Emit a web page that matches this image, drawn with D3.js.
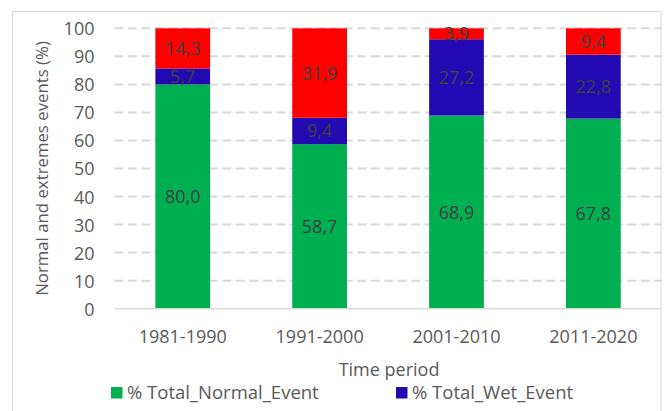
<!DOCTYPE html>
<html>
<head>
<meta charset="utf-8">
<script src="https://cdn.jsdelivr.net/npm/d3@7"></script>
<style>
  html, body { margin: 0; padding: 0; background: #fff; }
  svg { display: block; }
  text { font-family: "Open Sans", "Noto Sans", sans-serif; }
</style>
</head>
<body>
<div id="chart"></div>
<script>
// ---- data ----
const categories = ["1981-1990", "1991-2000", "2001-2010", "2011-2020"];
const normalEvent = [80.0, 58.7, 68.9, 67.8];
const wetEvent = [5.7, 9.4, 27.2, 22.8];
const dryEvent = [14.3, 31.9, 3.9, 9.4];
const seriesNames = ["% Total_Normal_Event", "% Total_Wet_Event", "% Total_Dry_Event"];
const seriesColors = ["#00B050", "#2209B2", "#FF0000"];
const legendShown = ["% Total_Normal_Event", "% Total_Wet_Event"];
const yTicks = [0, 10, 20, 30, 40, 50, 60, 70, 80, 90, 100];
const xTitle = "Time period";
const yTitle = "Normal and extremes events (%)";

const W = 664, H = 411;
const svg = d3.select("#chart").append("svg").attr("width", W).attr("height", H);

// chart border
svg.append("rect")
  .attr("x", 12.5).attr("y", 11.5)
  .attr("width", 648.5).attr("height", 430)
  .attr("fill", "#fff").attr("stroke", "#d9d9d9").attr("stroke-width", 1);

const plot = { left: 114.3, right: 661.8, top: 28.3, bottom: 308.7 };

const x = d3.scaleBand().domain(categories).range([plot.left, plot.right]).padding(0);
const y = d3.scaleLinear().domain([0, 100]).range([plot.bottom, plot.top]);
const barW = x.bandwidth() * 0.4;

// gridlines
svg.append("g").selectAll("line")
  .data(yTicks.filter(t => t > 0))
  .join("line")
  .attr("x1", plot.left).attr("x2", plot.right)
  .attr("y1", d => y(d)).attr("y2", d => y(d))
  .attr("stroke", "#d9d9d9").attr("stroke-width", 2)
  .attr("stroke-dasharray", "9,4.5");

// stacked data
const rows = categories.map((c, i) => ({ cat: c, normal: normalEvent[i], wet: wetEvent[i], dry: dryEvent[i] }));
const keys = ["normal", "wet", "dry"];
const stacked = d3.stack().keys(keys)(rows);

const layers = svg.append("g").selectAll("g")
  .data(stacked)
  .join("g")
  .attr("fill", (d, i) => seriesColors[i]);

layers.selectAll("rect")
  .data(d => d)
  .join("rect")
  .attr("x", d => x(d.data.cat) + (x.bandwidth() - barW) / 2)
  .attr("width", barW)
  .attr("y", d => y(d[1]))
  .attr("height", d => y(d[0]) - y(d[1]));

// x axis line
svg.append("line")
  .attr("x1", plot.left).attr("x2", plot.right)
  .attr("y1", y(0)).attr("y2", y(0))
  .attr("stroke", "#d9d9d9").attr("stroke-width", 1.5);

// data labels
const fmt = v => v.toFixed(1).replace(".", ",");
const labels = svg.append("g");
stacked.forEach(layer => {
  labels.selectAll(null)
    .data(layer)
    .join("text")
    .attr("x", d => x(d.data.cat) + x.bandwidth() / 2)
    .attr("y", d => (y(d[0]) + y(d[1])) / 2)
    .attr("dy", "0.36em")
    .attr("text-anchor", "middle")
    .attr("font-size", 18)
    .attr("fill", "#404040")
    .text(d => fmt(d[1] - d[0]));
});

// y axis tick labels
const yAxis = d3.axisLeft(y).tickValues(yTicks).tickSize(0).tickPadding(0);
const yg = svg.append("g").attr("transform", `translate(94.5,0)`).call(yAxis);
yg.select(".domain").remove();
yg.selectAll("text")
  .attr("font-size", 18)
  .attr("font-family", "'Open Sans', sans-serif")
  .attr("fill", "#595959")
  .attr("dy", "0.36em");

// x axis tick labels
const xAxis = d3.axisBottom(x).tickSize(0).tickPadding(0);
const xg = svg.append("g").attr("transform", `translate(0,${y(0)})`).call(xAxis);
xg.select(".domain").remove();
xg.selectAll("text")
  .attr("font-size", 18)
  .attr("font-family", "'Open Sans', sans-serif")
  .attr("fill", "#595959")
  .attr("y", 34.6).attr("dy", 0);

// axis titles
svg.append("text")
  .attr("x", (plot.left + plot.right) / 2 + 1)
  .attr("y", 376)
  .attr("text-anchor", "middle")
  .attr("font-size", 18)
  .attr("fill", "#595959")
  .text(xTitle);

svg.append("text")
  .attr("transform", `translate(48,${(plot.top + plot.bottom) / 2}) rotate(-90)`)
  .attr("text-anchor", "middle")
  .attr("font-size", 16.8)
  .attr("fill", "#595959")
  .text(yTitle);

// legend (only the entries visible in the frame)
const legendPos = [[111, 387], [396, 387]];
const lg = svg.append("g").selectAll("g")
  .data(legendShown)
  .join("g")
  .attr("transform", (d, i) => `translate(${legendPos[i][0]},${legendPos[i][1]})`);
lg.append("rect").attr("width", 11.5).attr("height", 11.5)
  .attr("fill", d => seriesColors[seriesNames.indexOf(d)]);
lg.append("text")
  .attr("x", 16).attr("y", 12)
  .attr("font-size", 18.5)
  .attr("fill", "#595959")
  .text(d => d);
</script>
</body>
</html>
